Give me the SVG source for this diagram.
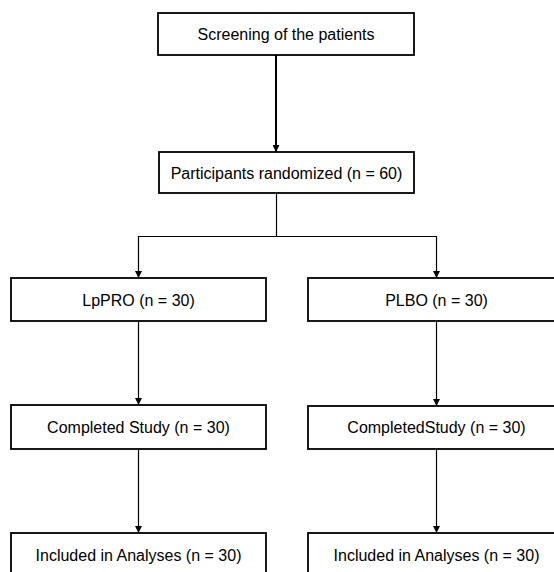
<svg xmlns="http://www.w3.org/2000/svg" width="554" height="572" viewBox="0 0 554 572">
<style>
.box{fill:#fff;stroke:#000;stroke-width:1.8}
.lbl{font-family:"Liberation Sans",Arial,sans-serif;font-size:16px;fill:#000;text-anchor:middle}
.c{fill:none;stroke:#000;stroke-width:1.2}
.thick{stroke-width:2}
</style>
<defs>
<marker id="ah" viewBox="0 0 8 8" refX="8" refY="4" markerWidth="7" markerHeight="7" markerUnits="userSpaceOnUse" orient="auto">
<path d="M0,0 L8,4 L0,8 Z" fill="#000"/>
</marker>
</defs>
<rect width="554" height="572" fill="#fff"/>
<g id="connectors">
<path class="c thick" d="M276,55 V152" marker-end="url(#ah)"/>
<path class="c" d="M276.5,193 V236.5"/>
<path class="c" d="M138.5,236.5 H436.5"/>
<path class="c" d="M138.5,236 V278" marker-end="url(#ah)"/>
<path class="c" d="M436.5,236 V278" marker-end="url(#ah)"/>
<path class="c" d="M138.5,321 V405" marker-end="url(#ah)"/>
<path class="c" d="M436.5,321 V406" marker-end="url(#ah)"/>
<path class="c" d="M138.5,449 V533" marker-end="url(#ah)"/>
<path class="c" d="M436.5,449 V533" marker-end="url(#ah)"/>
</g>
<g id="screening">
<rect class="box" x="158" y="13" width="256" height="42"/>
<text class="lbl" x="286" y="40">Screening of the patients</text>
</g>
<g id="randomized">
<rect class="box" x="159" y="152" width="255" height="41"/>
<text class="lbl" x="286.5" y="179">Participants randomized (n = 60)</text>
</g>
<g id="lppro">
<rect class="box" x="11" y="278" width="255" height="43"/>
<text class="lbl" x="138.5" y="306">LpPRO (n = 30)</text>
</g>
<g id="plbo">
<rect class="box" x="308" y="278" width="256" height="43"/>
<text class="lbl" x="436.5" y="306">PLBO (n = 30)</text>
</g>
<g id="completed-left">
<rect class="box" x="11" y="405" width="255" height="44"/>
<text class="lbl" x="138.5" y="433">Completed Study (n = 30)</text>
</g>
<g id="completed-right">
<rect class="box" x="308" y="406" width="256" height="43"/>
<text class="lbl" x="436.5" y="433">CompletedStudy (n = 30)</text>
</g>
<g id="included-left">
<rect class="box" x="11" y="533" width="255" height="44"/>
<text class="lbl" x="138.5" y="561">Included in Analyses (n = 30)</text>
</g>
<g id="included-right">
<rect class="box" x="308" y="533" width="256" height="44"/>
<text class="lbl" x="436.5" y="561">Included in Analyses (n = 30)</text>
</g>
</svg>
